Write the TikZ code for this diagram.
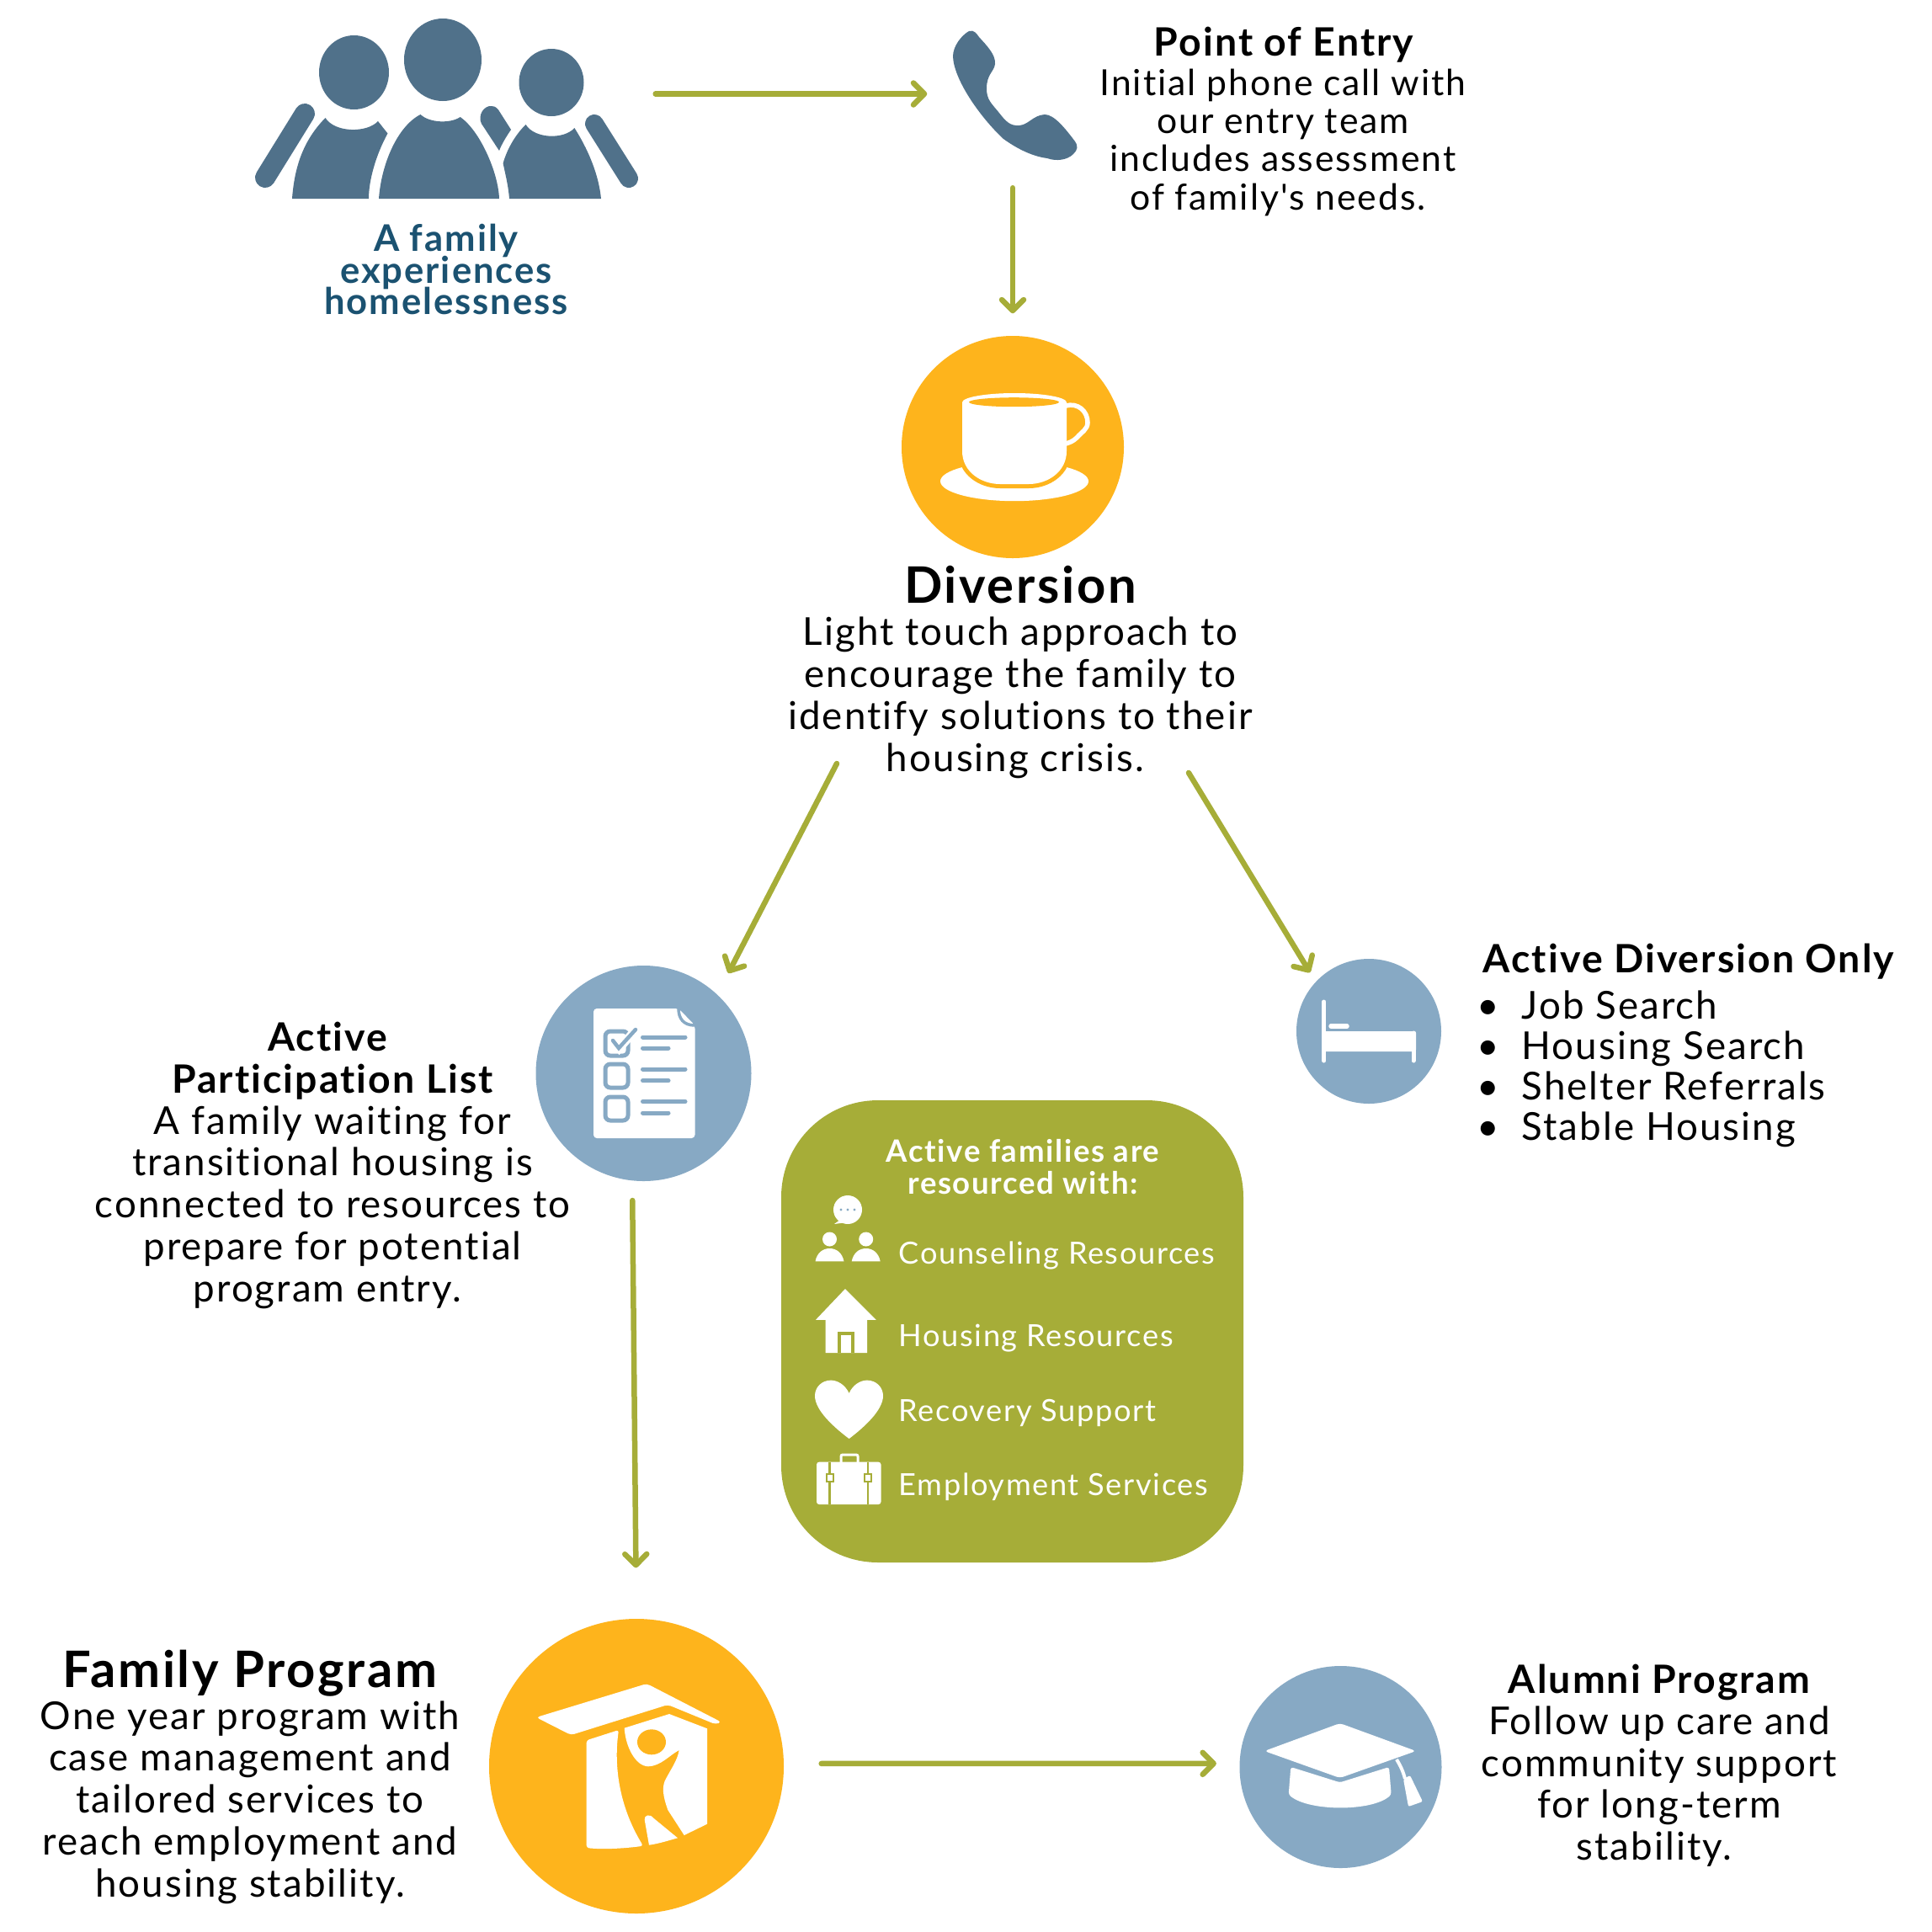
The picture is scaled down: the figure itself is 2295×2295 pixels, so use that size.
\documentclass[tikz,border=0pt]{standalone}
\usepackage{fontspec}
\setmainfont{Lato}[LetterSpace=4.5,Ligatures={CommonOff,TeXOff}]
\usepackage{tikz}
\usetikzlibrary{
  arrows.meta,
  positioning,
}
\definecolor{flowGreen}{HTML}{A6AD38}
\definecolor{sunOrange}{HTML}{FEB41C}
\definecolor{softBlue}{HTML}{87A9C4}
\definecolor{slateBlue}{HTML}{50718A}
\definecolor{deepBlue}{HTML}{1B5271}
\tikzset{
  disc/.style={
    circle, fill=#1, inner sep=0pt,
  },
  iconspot/.style={
    rectangle, inner sep=0pt,
  },
  bodytext/.style={
    align=center, inner sep=0pt, text=black,
    font=\fontsize{13}{14.17}\selectfont,
  },
  entrytext/.style={
    bodytext, font=\fontsize{12.15}{12.9}\selectfont,
  },
  headtext/.style={
    align=center, inner sep=0pt, text=black,
    font=\fontsize{13.2}{14.17}\selectfont\bfseries,
  },
  bigtitle/.style={
    align=center, inner sep=0pt, text=black,
    font=\fontsize{17}{20}\selectfont\bfseries,
  },
  restext/.style={
    anchor=west, inner sep=0pt, text=white,
    font=\fontsize{10.3}{12}\selectfont,
  },
  arrowFlow/.style={
    -{Straight Barb[length=1.3mm,width=2.6mm,round]}, line width=0.65mm,
    draw=flowGreen, line cap=round,
  },
  cupbody/.style={
    fill=white, preaction={draw=sunOrange, line width=1mm},
  },
  listline/.style={
    draw=softBlue, line width=0.5mm, line cap=round,
  },
  listbox/.style={
    draw=softBlue, line width=0.5mm, rounded corners=0.6mm,
  },
}
\newcommand{\bulletrow}[1]{\makebox[5.3mm][l]{\textbullet}#1}
\newcommand{\tailgap}{\hspace*{1.2mm}}
\lineskiplimit=-5pt

\begin{document}
\begin{tikzpicture}[x=0.1mm,y=-0.1mm]
\useasboundingbox (0,0) rectangle (2295,2295);
\fill[white] (0,0) rectangle (2295,2295);

% discs and the green panel
\node[disc=sunOrange, minimum size=26.4mm] (diversion) at (1203,531) {};
\node[disc=softBlue, minimum size=25.6mm] (checklist) at (764.5,1275) {};
\node[disc=softBlue, minimum size=17.2mm] (bed) at (1626,1225) {};
\node[disc=sunOrange, minimum size=35mm] (program) at (756,2098) {};
\node[disc=softBlue, minimum size=24mm] (alumni) at (1592.5,2099) {};
\node[rectangle, fill=flowGreen, rounded corners=11.5mm, minimum size=54.9mm,
      inner sep=0pt] (panel) at (1202.5,1581.5) {};

% spots for the two icons at the top
\node[iconspot, minimum width=46mm, minimum height=18mm] (family) at (531,111.5) {};
\node[iconspot, minimum width=15mm, minimum height=21.6mm] (phone) at (1203,111.5) {};
\coordinate (divLeft) at (994,907);
\coordinate (divRight) at (1412,918);

% family
\fill[slateBlue] (420.5,86) ellipse [x radius=41.5, y radius=44];
\fill[slateBlue] (526,71) ellipse [x radius=46, y radius=49];
\fill[slateBlue] (655,98) ellipse [x radius=38.5, y radius=40];
\fill[slateBlue] (347,236) .. controls (350,195) and (362,165) .. (386.5,140)
  .. controls (398,158) and (436,158) .. (449,144) -- (460.5,158.5)
  .. controls (446,185) and (438,215) .. (438,236) -- cycle;
\fill[slateBlue] (450,236) .. controls (453,195) and (472,150) .. (499.5,136)
  .. controls (510,146) and (535,147) .. (546.7,139)
  .. controls (570,155) and (592,205) .. (593,236) -- cycle;
\fill[slateBlue] (605,236) .. controls (604,222) and (601,210) .. (597.6,194)
  .. controls (602,178) and (612,160) .. (624.6,148)
  .. controls (635,165) and (670,166) .. (682.4,152)
  .. controls (697,175) and (711,205) .. (714,236) -- cycle;
\fill[slateBlue] (593,179) -- (572,147) .. controls (567,137) and (575,125) .. (584,126)
  .. controls (589,126) and (592,130) .. (593,132) -- (607,154)
  .. controls (601,163) and (596,171) .. (593,179) -- cycle;
\draw[slateBlue, line width=2.4mm, line cap=round] (362,135) -- (315,211);
\draw[slateBlue, line width=2.2mm, line cap=round] (706,147) -- (747,212);

% phone
\fill[slateBlue] (1151,37) .. controls (1157,35) and (1160,40) .. (1163,44)
  .. controls (1172,54) and (1183,65) .. (1182,76)
  .. controls (1181,85) and (1172,88) .. (1172,105)
  .. controls (1172,118) and (1177,122) .. (1186,133)
  .. controls (1194,143) and (1199,150) .. (1211,149)
  .. controls (1222,148) and (1227,137) .. (1241,136)
  .. controls (1252,136) and (1265,152) .. (1277,168)
  .. controls (1281,174) and (1280,178) .. (1275,183)
  .. controls (1268,190) and (1255,192) .. (1244,188)
  .. controls (1228,186) and (1210,178) .. (1192,165)
  .. controls (1165,140) and (1133,95) .. (1132,67)
  .. controls (1132,55) and (1142,42) .. (1151,37) -- cycle;

% cup
\fill[white] (1205,571.7) ellipse [x radius=88, y radius=23.5];
\path[cupbody] (1143,478) -- (1143,536) .. controls (1143,560) and (1165,575) .. (1188,575)
  -- (1222,575) .. controls (1245,575) and (1267,560) .. (1267,536) -- (1267,478) -- cycle;
\fill[white] (1205,478) ellipse [x radius=62, y radius=11];
\fill[sunOrange] (1204.5,477.7) ellipse [x radius=53.5, y radius=5.5];
\draw[white, line width=0.55mm] (1266,482) .. controls (1280,478) and (1292,488) .. (1292,502)
  .. controls (1292,510) and (1285,513) .. (1279,520) .. controls (1275,524) and (1270,526) .. (1266,527);

% checklist
\fill[white, rounded corners=0.4mm] (705,1198) -- (806,1198) -- (825.5,1218) -- (825.5,1352) -- (705,1352) -- cycle;
\draw[draw=softBlue, line width=0.35mm] (806,1198) .. controls (806,1210) and (812,1218) .. (825.5,1218);
\draw[listbox] (719,1225) rectangle (746,1254);
\draw[listbox] (719,1264) rectangle (746,1292);
\draw[listbox] (719,1303) rectangle (746,1331);
\draw[white, line width=1mm] (730,1236) -- (736,1245) -- (756,1222);
\draw[listline, line width=0.45mm] (728,1236) -- (735,1245) -- (755,1223);
\draw[listline] (763.5,1232) -- (814,1232);
\draw[listline] (763.5,1245) -- (794,1245);
\draw[listline] (763.5,1270) -- (814,1270);
\draw[listline] (763.5,1283.6) -- (794,1283.6);
\draw[listline] (763.5,1308.5) -- (814,1308.5);
\draw[listline] (763.5,1322) -- (794,1322);

% bed
\draw[white, line width=0.5mm, line cap=round] (1572.7,1190) -- (1572.7,1260);
\draw[white, line width=0.5mm, line cap=round] (1679,1227) -- (1679,1260);
\fill[white, rounded corners=0.2mm] (1572,1225) rectangle (1682,1249);
\draw[white, line width=0.55mm, line cap=round] (1581,1219) -- (1600,1219);

% program logo
\fill[white, rounded corners=0.4mm] (637,2040) -- (768.3,2000) -- (857,2045.7) -- (850,2048.3)
  -- (793.3,2025) -- (678.3,2061) -- cycle;
\fill[white, rounded corners=0.3mm] (696.7,2067.3) -- (735,2055)
  .. controls (730,2090) and (732,2140) .. (764,2192.7)
  .. controls (740,2196) and (715,2197) .. (696.7,2195) -- cycle;
\fill[white] (741.7,2052.7) -- (795,2036) -- (840,2053.3) -- (840,2166.7) -- (812.7,2180)
  -- (793.3,2150) .. controls (788,2135) and (785,2122) .. (791.7,2111.7)
  .. controls (798,2100) and (805,2090) .. (806.7,2079)
  .. controls (795,2085) and (785,2098) .. (770,2098.3)
  .. controls (755,2098) and (743,2075) .. (741.7,2052.7) -- cycle;
\fill[sunOrange] (774,2069.3) ellipse [x radius=17, y radius=15];
\fill[white] (771,2191.7) -- (765.7,2161.7) .. controls (765,2156) and (772,2154) .. (776.7,2160)
  -- (805,2183.3) .. controls (795,2186) and (783,2190) .. (771,2191.7) -- cycle;

% cap
\fill[white, rounded corners=0.4mm] (1502,2080) -- (1591.7,2047) -- (1682,2080) -- (1591.7,2112) -- cycle;
\fill[white, rounded corners=0.3mm] (1533.3,2099) -- (1591.7,2117.3) -- (1650,2099)
  -- (1652.7,2131.7) .. controls (1630,2152) and (1555,2152) .. (1530.7,2131.7) -- cycle;
\draw[white, line width=0.4mm] (1659,2090) .. controls (1664,2098) and (1667,2105) .. (1669,2113);
\fill[white, rounded corners=0.2mm] (1667,2113.3) -- (1675,2109) -- (1690,2140) -- (1673,2146) -- cycle;

% resource icons
\fill[white] (1007,1437) circle [radius=17];
\fill[white] (998,1449) -- (991,1454) -- (1006,1452) -- cycle;
\foreach \i in {999,1007,1015}
  \fill[softBlue] (\i,1437) circle [radius=1.6];
\foreach \i in {985.5,1028.7} {
  \fill[white] (\i,1472) circle [radius=8.5];
  \fill[white] (\i-17,1498.4) .. controls (\i-15,1488) and (\i-8,1483) .. (\i,1483)
    .. controls (\i+8,1483) and (\i+15,1488) .. (\i+17,1498.4) -- cycle;
}
\fill[white] (1004,1531) -- (1040.8,1567.8) -- (1030,1567.8) -- (1030,1607) -- (980.5,1607)
  -- (980.5,1567.8) -- (969,1567.8) -- cycle;
\draw[flowGreen, line width=0.4mm] (997,1607) -- (997,1584) -- (1013,1584) -- (1013,1607);
\fill[white] (1008.6,1655) .. controls (1004,1645) and (995,1639.6) .. (987,1639.6)
  .. controls (976,1639.6) and (968,1648) .. (968,1658)
  .. controls (968,1675) and (990,1695) .. (1008.6,1709)
  .. controls (1027,1695) and (1049,1675) .. (1049,1658)
  .. controls (1049,1648) and (1041,1639.6) .. (1030,1639.6)
  .. controls (1022,1639.6) and (1013,1645) .. (1008.6,1655) -- cycle;
\fill[white, rounded corners=0.3mm] (970,1736.7) rectangle (1046.5,1787);
\draw[white, line width=0.3mm, rounded corners=0.2mm] (999,1737) -- (999,1728) -- (1019,1728) -- (1019,1737);
\foreach \i in {985.7,1031} {
  \draw[flowGreen, line width=0.25mm] (\i,1737) -- (\i,1787);
  \draw[flowGreen, fill=white, line width=0.2mm] (\i-4,1751) rectangle (\i+4,1760);
}

% texts
\node[bodytext, text=deepBlue, font=\fontsize{12.4}{10.8}\selectfont\bfseries] (familytext) at (530,320)
  {A family\\experiences\\homelessness};
\node[headtext] (entrytitle) at (1525,53) {Point of Entry};
\node[entrytext] (entrybody) at (1524,169)
  {Initial phone call with\\our entry team\\includes assessment\\of family's needs.\tailgap};
\node[bigtitle] (divtitle) at (1212,695) {Diversion};
\node[bodytext] (divbody) at (1212,829)
  {Light touch approach to\\encourage the family to\\identify solutions to their\\housing crisis.\tailgap};
\node[headtext] (listtitle) at (395,1260) {Active\tailgap\\Participation List};
\node[bodytext] (listbody) at (395,1434)
  {A family waiting for\\transitional housing is\\connected to resources to\\prepare for potential\\program entry.\tailgap};
\node[headtext] (onlytitle) at (2006,1142) {Active Diversion Only};
\node[bodytext, anchor=west, align=left, font=\fontsize{13}{13.7}\selectfont] (onlylist) at (1754,1270)
  {\bulletrow{Job Search}\\\bulletrow{Housing Search}\\\bulletrow{Shelter Referrals}\\\bulletrow{Stable Housing}};
\node[headtext, text=white, font=\fontsize{10.4}{10.6}\selectfont\bfseries] (paneltitle) at (1215,1386)
  {Active families are\\resourced with:};
\node[restext] (rescounsel) at (1067,1491) {Counseling Resources};
\node[restext] (reshousing) at (1067,1590) {Housing Resources};
\node[restext] (resrecovery) at (1067,1678) {Recovery Support};
\node[restext] (resemploy) at (1067,1766) {Employment Services};
\node[bigtitle] (progtitle) at (297,1988) {Family Program};
\node[bodytext] (progbody) at (297,2141)
  {One year program with\\case management and\\tailored services to\\reach employment and\\housing stability.};
\node[headtext] (alumtitle) at (1971,1998) {Alumni Program};
\node[bodytext] (alumbody) at (1971,2122)
  {Follow up care and\\community support\\for long-term\\stability.\tailgap};

% arrows
\draw[arrowFlow, shorten <=1.7mm, shorten >=2.6mm] (family.east) -- (phone.west);
\draw[arrowFlow, shorten <=0.3mm, shorten >=2.6mm] (phone.south) -- (diversion.north);
\draw[arrowFlow, shorten >=2.8mm] (divLeft) -- (checklist.47);
\draw[arrowFlow, shorten >=1.25mm] (divRight) -- (bed.137);
\draw[arrowFlow, shorten <=2.3mm, shorten >=6mm] (checklist.264) -- (program.north);
\draw[arrowFlow, shorten <=4.4mm, shorten >=2.7mm] (program.1) -- (alumni.178);

\end{tikzpicture}
\end{document}
